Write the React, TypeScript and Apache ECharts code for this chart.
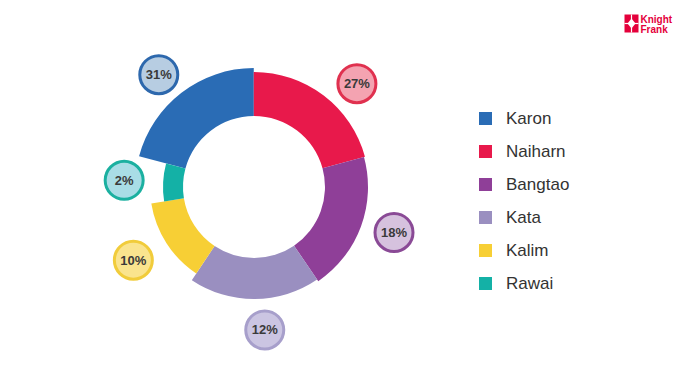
import React, { useEffect, useRef } from "react";
import * as echarts from "echarts";

const regions = ["Karon", "Naiharn", "Bangtao", "Kata", "Kalim", "Rawai"];
// percentages printed in the bubbles
const shareLabels = [31, 27, 18, 12, 10, 2];
// arc sizes as drawn in the picture (share of the ring, %)
const arcShares = [20.8, 20.8, 19.7, 18.9, 13.1, 6.7];

const colors = ["#2a6cb5", "#e8194b", "#8f3f98", "#9a8fc0", "#f7cf35", "#14b1a6"];
const bubbleFill = ["#b7cde2", "#f4a3b1", "#d6c2de", "#cbc5e2", "#fae48e", "#a9dde6"];
const bubbleBorder = ["#2d68ad", "#e0314f", "#8a4a96", "#a79fcb", "#f1cc3b", "#1bb0a0"];
const outerR = [119, 115, 114, 112, 104, 91];
const labelR = [145, 142, 143, 140, 138, 127];
const labelShift = [[-5, 5], [15, 12], [3, -5], [10, 0], [-2, -3], [0, 0]];
const CENTER = [254, 187];
const INNER = 71;
const START = 165;

export default function App() {
  const ref = useRef<HTMLDivElement>(null);
  useEffect(() => {
    if (!ref.current) return;
    const chart = echarts.init(ref.current, undefined, { renderer: "svg" });
    const sliceSeries = regions.map((_, i) => ({
      type: "pie",
      name: "slice" + i,
      center: CENTER,
      radius: [INNER, outerR[i]],
      startAngle: START,
      clockwise: true,
      silent: true,
      avoidLabelOverlap: false,
      label: { show: false },
      labelLine: { show: false },
      emphasis: { disabled: true },
      itemStyle: { borderWidth: 0 },
      data: regions.map((n, j) => ({
        name: n,
        value: arcShares[j],
        itemStyle: { color: j === i ? colors[i] : "rgba(0,0,0,0)" },
      })),
    }));
    const labelSeries = regions.map((_, i) => ({
      type: "pie",
      name: "label" + i,
      center: CENTER,
      radius: [labelR[i] - 1, labelR[i] + 1],
      startAngle: START,
      clockwise: true,
      silent: true,
      avoidLabelOverlap: false,
      labelLine: { show: false },
      emphasis: { disabled: true },
      itemStyle: { borderWidth: 0, color: "rgba(0,0,0,0)" },
      data: regions.map((n, j) => ({
        name: n,
        value: arcShares[j],
        label: {
          show: j === i,
          position: "inside",
          offset: labelShift[j],
          formatter: shareLabels[j] + "%",
          fontFamily: "Liberation Sans, Arial, sans-serif",
          fontWeight: "bold",
          fontSize: 13,
          color: "#3a3a3a",
          backgroundColor: bubbleFill[j],
          borderColor: bubbleBorder[j],
          borderWidth: 3,
          borderRadius: 20,
          width: 35,
          height: 35,
          lineHeight: 35,
          align: "center",
          verticalAlign: "middle",
        },
      })),
    }));
    chart.setOption({
      animation: false,
      backgroundColor: "#ffffff",
      legend: {
        orient: "vertical",
        left: 474,
        top: 105,
        itemWidth: 13,
        itemHeight: 13,
        itemGap: 16,
        selectedMode: false,
        icon: "rect",
        textStyle: {
          fontFamily: "Liberation Sans, Arial, sans-serif",
          fontSize: 17,
          lineHeight: 17,
          color: "#333333",
          padding: [0, 0, 0, 9],
        },
        data: regions.map((n, i) => ({ name: n, icon: "rect", itemStyle: { color: colors[i] } })),
      },
      graphic: [
        {
          type: "group",
          left: 622,
          top: 12,
          children: [
            { type: "rect", shape: { x: 0, y: 0, width: 14, height: 18 }, style: { fill: "#e4003b" } },
            { type: "polygon", shape: { points: [[7, 4], [11, 9], [7, 14], [3, 9]] }, style: { fill: "#ffffff" } },
            { type: "line", shape: { x1: 0, y1: 9, x2: 14, y2: 9 }, style: { stroke: "#ffffff", lineWidth: 1.2 } },
            { type: "line", shape: { x1: 7, y1: 0, x2: 7, y2: 18 }, style: { stroke: "#ffffff", lineWidth: 1.2 } },
            { type: "text", x: 16, y: 0, style: { text: "Knight", fill: "#e4003b", font: "bold 10px Liberation Sans, Arial, sans-serif" } },
            { type: "text", x: 16, y: 10, style: { text: "Frank", fill: "#e4003b", font: "bold 10px Liberation Sans, Arial, sans-serif" } },
          ],
        },
      ],
      series: [...sliceSeries, ...labelSeries],
    });
    return () => chart.dispose();
  }, []);
  return (
    <div
      ref={ref}
      style={{ position: "fixed", left: 0, top: 0, width: 680, height: 370, background: "#fff" }}
    />
  );
}
